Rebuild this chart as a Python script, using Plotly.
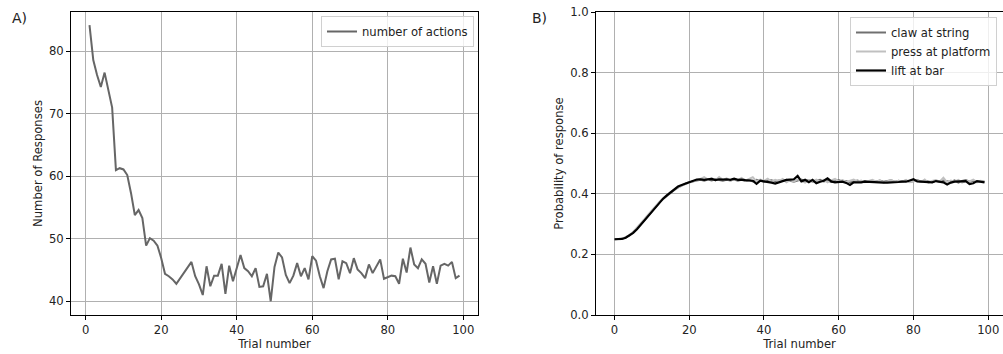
import plotly.graph_objects as go

# ---- Panel A data ----
trials_a = list(range(1, 100))
num_actions = [
    84.2, 78.6, 76.2, 74.3, 76.6, 73.8, 71.0, 61.0, 61.3, 61.1,
    60.2, 57.3, 53.8, 54.6, 53.3, 48.9, 50.1, 49.7, 48.9, 46.9,
    44.4, 44.0, 43.5, 42.8, 43.7, 44.4, 45.3, 46.3, 44.0, 42.7,
    41.0, 45.6, 42.4, 44.1, 44.1, 46.0, 41.2, 45.7, 43.2, 45.1,
    47.4, 45.3, 44.8, 44.0, 45.3, 42.3, 42.4, 44.4, 40.0, 45.5,
    47.8, 47.0, 44.2, 42.9, 44.1, 46.1, 44.0, 45.3, 43.5, 47.2,
    46.5, 44.0, 42.1, 44.8, 46.7, 46.8, 43.5, 46.4, 46.1, 44.5,
    46.9, 45.1, 44.5, 43.7, 45.9, 44.5, 45.5, 46.7, 43.6, 43.9,
    44.1, 44.0, 42.8, 46.8, 44.6, 48.6, 45.9, 45.3, 46.7, 46.0,
    43.0, 45.6, 42.8, 45.7, 46.0, 45.7, 46.3, 43.7, 44.1,
]

# ---- Panel B data ----
trials_b = list(range(0, 100))
claw_at_string = [
    0.250, 0.251, 0.252, 0.256, 0.263, 0.273, 0.285, 0.299, 0.313, 0.328,
    0.343, 0.357, 0.371, 0.383, 0.394, 0.404, 0.413, 0.421, 0.428, 0.434,
    0.438, 0.442, 0.444, 0.446, 0.443, 0.447, 0.444, 0.448, 0.445, 0.443,
    0.446, 0.444, 0.447, 0.443, 0.446, 0.442, 0.445, 0.441, 0.446, 0.444,
    0.440, 0.443, 0.445, 0.441, 0.444, 0.442, 0.446, 0.443, 0.440, 0.444,
    0.447, 0.442, 0.445, 0.440, 0.443, 0.446, 0.441, 0.444, 0.439, 0.443,
    0.445, 0.440, 0.442, 0.438, 0.441, 0.444, 0.440, 0.442, 0.439, 0.443,
    0.441, 0.444, 0.440, 0.442, 0.445, 0.440, 0.443, 0.441, 0.444, 0.439,
    0.442, 0.445, 0.440, 0.443, 0.441, 0.438, 0.443, 0.440, 0.444, 0.441,
    0.439, 0.444, 0.437, 0.442, 0.445, 0.440, 0.443, 0.438, 0.442, 0.440,
]
press_at_platform = [
    0.250, 0.250, 0.252, 0.257, 0.264, 0.274, 0.287, 0.301, 0.316, 0.331,
    0.346, 0.360, 0.373, 0.385, 0.396, 0.406, 0.414, 0.421, 0.427, 0.432,
    0.437, 0.441, 0.445, 0.449, 0.455, 0.447, 0.452, 0.444, 0.455, 0.446,
    0.451, 0.443, 0.449, 0.445, 0.452, 0.443, 0.448, 0.455, 0.441, 0.447,
    0.443, 0.450, 0.440, 0.446, 0.442, 0.449, 0.438, 0.445, 0.441, 0.448,
    0.443, 0.437, 0.445, 0.441, 0.447, 0.440, 0.446, 0.438, 0.444, 0.449,
    0.441, 0.445, 0.439, 0.443, 0.447, 0.440, 0.444, 0.438, 0.442, 0.446,
    0.440, 0.444, 0.437, 0.442, 0.445, 0.439, 0.443, 0.440, 0.446, 0.438,
    0.442, 0.444, 0.439, 0.447, 0.436, 0.442, 0.445, 0.440, 0.453, 0.438,
    0.444, 0.440, 0.446, 0.437, 0.443, 0.441, 0.447, 0.439, 0.443, 0.440,
]
lift_at_bar = [
    0.250, 0.250, 0.251, 0.255, 0.262, 0.271, 0.283, 0.298, 0.312, 0.327,
    0.340, 0.355, 0.370, 0.384, 0.395, 0.405, 0.416, 0.424, 0.429, 0.433,
    0.438, 0.443, 0.447, 0.448, 0.446, 0.448, 0.449, 0.445, 0.448, 0.447,
    0.448, 0.446, 0.450, 0.446, 0.447, 0.445, 0.444, 0.443, 0.433, 0.443,
    0.441, 0.440, 0.437, 0.434, 0.438, 0.444, 0.446, 0.447, 0.448, 0.459,
    0.441, 0.446, 0.438, 0.446, 0.435, 0.440, 0.443, 0.451, 0.441, 0.438,
    0.440, 0.440, 0.436, 0.429, 0.438, 0.437, 0.438, 0.440, 0.439, 0.438,
    0.438, 0.438, 0.437, 0.437, 0.437, 0.438, 0.439, 0.440, 0.440, 0.444,
    0.448, 0.441, 0.440, 0.438, 0.439, 0.438, 0.442, 0.440, 0.438, 0.431,
    0.437, 0.440, 0.440, 0.440, 0.442, 0.432, 0.435, 0.442, 0.440, 0.438,
]

x_ticks = [0, 20, 40, 60, 80, 100]
ya_ticks = [40, 50, 60, 70, 80]
yb_ticks = [0.0, 0.2, 0.4, 0.6, 0.8, 1.0]

W, H = 1003, 354
FONT = "DejaVu Sans"
FS = 11.6
TXT = "#222222"
GRID = "#b0b0b0"

fig = go.Figure()

fig.add_trace(go.Scatter(x=trials_a, y=num_actions, mode="lines", name="number of actions",
                         line=dict(color="#666666", width=2), xaxis="x", yaxis="y",
                         legend="legend"))
fig.add_trace(go.Scatter(x=trials_b, y=claw_at_string, mode="lines", name="claw at string",
                         line=dict(color="#707070", width=2), xaxis="x2", yaxis="y2",
                         legend="legend2"))
fig.add_trace(go.Scatter(x=trials_b, y=press_at_platform, mode="lines", name="press at platform",
                         line=dict(color="#c0c0c0", width=2), xaxis="x2", yaxis="y2",
                         legend="legend2"))
fig.add_trace(go.Scatter(x=trials_b, y=lift_at_bar, mode="lines", name="lift at bar",
                         line=dict(color="#000000", width=2.2), xaxis="x2", yaxis="y2",
                         legend="legend2"))

ax_common = dict(showline=True, linecolor="black", linewidth=1, mirror=True,
                 ticks="outside", ticklen=4, tickwidth=1, tickcolor="black",
                 showgrid=True, gridcolor=GRID, gridwidth=1, zeroline=False,
                 automargin=False,
                 tickfont=dict(family=FONT, size=FS, color=TXT))

y_dom = [1 - 315 / H, 1 - 12 / H]

fig.update_layout(
    width=W, height=H,
    margin=dict(l=0, r=0, t=0, b=0, autoexpand=False),
    paper_bgcolor="white", plot_bgcolor="white",
    font=dict(family=FONT, size=FS, color=TXT),
    xaxis=dict(domain=[71 / W, 478 / W], range=[-3.9, 103.9], tickvals=x_ticks,
               title=dict(text="Trial number", standoff=3, font=dict(size=FS)), anchor="y",
               **ax_common),
    yaxis=dict(domain=y_dom, range=[37.8, 86.3], tickvals=ya_ticks,
               title=dict(text="Number of Responses", standoff=3, font=dict(size=FS)), anchor="x",
               **ax_common),
    xaxis2=dict(domain=[596 / W, 1.0], range=[-4.95, 103.95], tickvals=x_ticks,
                title=dict(text="Trial number", standoff=3, font=dict(size=FS)), anchor="y2",
                **ax_common),
    yaxis2=dict(domain=y_dom, range=[0, 1], tickvals=yb_ticks, tickformat=".1f",
                title=dict(text="Probability of response", standoff=4, font=dict(size=FS)),
                anchor="x2", **ax_common),
    legend=dict(x=474 / W, y=1 - 16 / H, xanchor="right", yanchor="top",
                bgcolor="rgba(255,255,255,0.8)", bordercolor="#d0d0d0", borderwidth=1,
                font=dict(family=FONT, size=FS, color=TXT), tracegroupgap=0),
    legend2=dict(x=997 / W, y=1 - 17 / H, xanchor="right", yanchor="top",
                 bgcolor="rgba(255,255,255,0.8)", bordercolor="#d0d0d0", borderwidth=1,
                 font=dict(family=FONT, size=FS, color=TXT), tracegroupgap=0),
    showlegend=True,
)

fig.add_annotation(text="A)", x=10 / W, y=1 - 18 / H, xref="paper", yref="paper",
                   xanchor="left", yanchor="middle", showarrow=False,
                   font=dict(family=FONT, size=14, color=TXT))
fig.add_annotation(text="B)", x=530 / W, y=1 - 18 / H, xref="paper", yref="paper",
                   xanchor="left", yanchor="middle", showarrow=False,
                   font=dict(family=FONT, size=14, color=TXT))

fig.write_html("out.html")
